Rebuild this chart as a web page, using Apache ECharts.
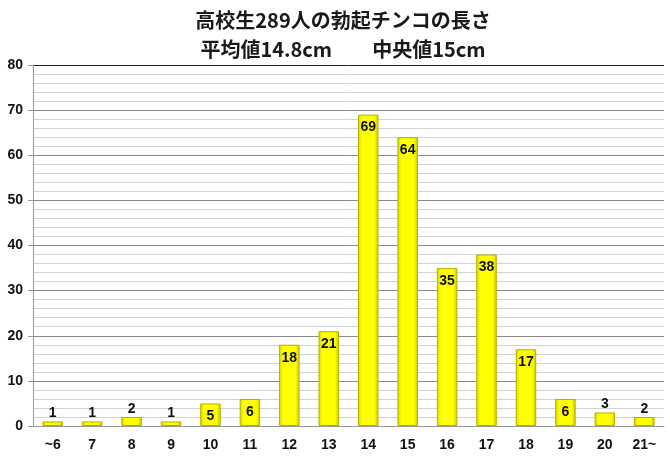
<!DOCTYPE html>
<html>
<head>
<meta charset="utf-8">
<script src="https://cdn.jsdelivr.net/npm/echarts@6/dist/echarts.min.js"></script>
<style>
  html, body { margin: 0; padding: 0; background: #fff; }
  #chart { width: 670px; height: 458px; }
</style>
</head>
<body>
<div id="chart"></div>
<script>
const titleLines = ["高校生289人の勃起チンコの長さ", "平均値14.8cm　　中央値15cm"];
const categories = ["~6", "7", "8", "9", "10", "11", "12", "13", "14", "15", "16", "17", "18", "19", "20", "21~"];
const counts = [1, 1, 2, 1, 5, 6, 18, 21, 69, 64, 35, 38, 17, 6, 3, 2];
const yTicks = [0, 10, 20, 30, 40, 50, 60, 70, 80];

const font = "'Noto Sans CJK JP', 'Liberation Sans', sans-serif";
const numFont = "'Liberation Sans', sans-serif";

const chart = echarts.init(document.getElementById("chart"));
chart.setOption({
  animation: false,
  textStyle: { fontFamily: font },
  title: {
    text: titleLines.join("\n"),
    left: 338,
    textAlign: "center",
    top: 1,
    textStyle: { fontSize: 20, fontWeight: "bold", color: "#1a1a1a", lineHeight: 29, fontFamily: font }
  },
  grid: { left: 33, right: 6, top: 65, bottom: 32 },
  xAxis: {
    type: "category",
    data: categories,
    axisTick: { show: false },
    axisLine: { lineStyle: { color: "#999", width: 1 } },
    axisLabel: { color: "#111", fontWeight: "bold", fontSize: 14, margin: 12, fontFamily: numFont }
  },
  yAxis: {
    type: "value",
    min: yTicks[0],
    max: yTicks[yTicks.length - 1],
    interval: 10,
    axisLine: { show: true, lineStyle: { color: "#999" } },
    axisTick: { show: true, length: 5, lineStyle: { color: "#999" } },
    axisLabel: { color: "#111", fontWeight: "bold", fontSize: 14, margin: 10, fontFamily: numFont },
    splitLine: {
      lineStyle: {
        color: yTicks.map((t, i) => (i === yTicks.length - 1 ? "#222" : "#8a8a8a")),
        width: 1
      }
    },
    minorTick: { show: false, splitNumber: 5 },
    minorSplitLine: { show: true, lineStyle: { color: "#d2d2d2", width: 1 } }
  },
  series: [{
    type: "bar",
    barWidth: "52%",
    data: counts.map(v => ({
      value: v,
      label: v < 4 ? { position: "top", distance: 1 } : { position: "insideTop", distance: 6 }
    })),
    itemStyle: {
      color: new echarts.graphic.LinearGradient(0, 0, 1, 0, [
        { offset: 0, color: "#d8d800" },
        { offset: 0.2, color: "#ffff00" },
        { offset: 0.8, color: "#ffff00" },
        { offset: 1, color: "#c8c800" }
      ]),
      borderColor: "#b0b000",
      borderWidth: 1
    },
    label: {
      show: true,
      color: "#111",
      fontWeight: "bold",
      fontSize: 14,
      fontFamily: numFont
    }
  }]
});
</script>
</body>
</html>
